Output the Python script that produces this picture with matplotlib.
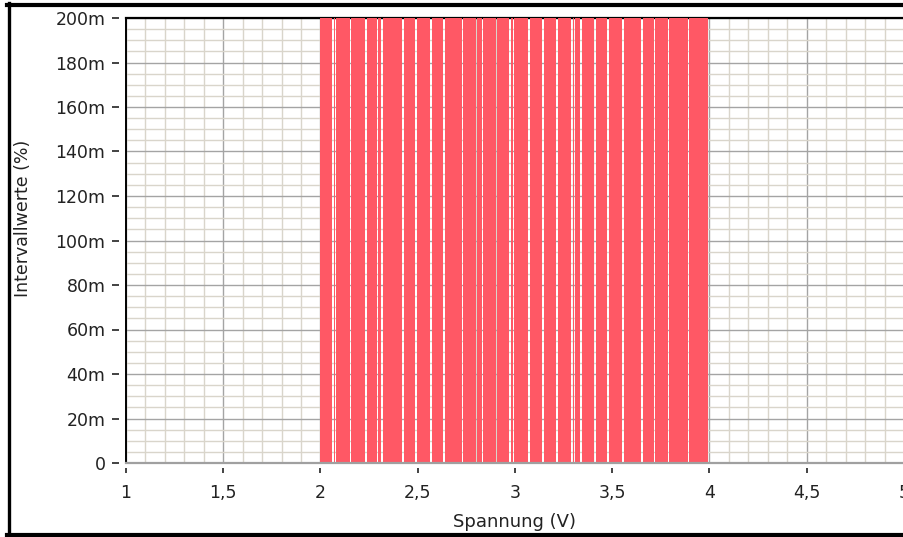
import numpy as np
import matplotlib
matplotlib.use("Agg")
import matplotlib.pyplot as plt
from matplotlib.ticker import MultipleLocator, FuncFormatter
from matplotlib.lines import Line2D

bin_edges = [2.0, 2.067, 2.082, 2.157, 2.237, 2.298, 2.319, 2.427, 2.494, 2.571,
             2.638, 2.735, 2.807, 2.838, 2.910, 2.977, 2.997, 3.075, 3.147, 3.219,
             3.296, 3.311, 3.342, 3.414, 3.481, 3.558, 3.656, 3.722, 3.794, 3.897, 4.0]
bar_heights = [0.25, 0.25, 0.25, 0.25, 0.25, 0.25, 0.25, 0.25, 0.25, 0.25,
               0.25, 0.25, 0.25, 0.25, 0.25, 0.25, 0.25, 0.25, 0.25, 0.25,
               0.25, 0.25, 0.25, 0.25, 0.25, 0.25, 0.25, 0.25, 0.25, 0.25]
x_ticks = [1, 1.5, 2, 2.5, 3, 3.5, 4, 4.5, 5]
y_ticks = [0, 0.02, 0.04, 0.06, 0.08, 0.1, 0.12, 0.14, 0.16, 0.18, 0.2]

BAR_RED = "#ff5865"
gap = 0.0075

W, H = 904, 537
fig = plt.figure(figsize=(W / 100, H / 100), dpi=100)
ax = fig.add_axes([126 / W, 1 - 463 / H, 778 / W, 445 / H])

edges = np.array(bin_edges)
ax.bar(edges[:-1], bar_heights, width=np.diff(edges) - gap, align="edge",
       color=BAR_RED, linewidth=0, zorder=3)

ax.set_xlim(1, 5)
ax.set_ylim(0, 0.2)

ax.set_xticks(x_ticks)
ax.set_yticks(y_ticks)
ax.xaxis.set_minor_locator(MultipleLocator(0.1))
ax.yaxis.set_minor_locator(MultipleLocator(0.005))
ax.xaxis.set_major_formatter(FuncFormatter(lambda v, p: ("%g" % v).replace(".", ",")))
ax.yaxis.set_major_formatter(FuncFormatter(lambda v, p: "0" if abs(v) < 1e-9 else "%dm" % round(v * 1000)))

ax.grid(which="minor", color="#d9d5cb", linewidth=1.0, zorder=0)
ax.grid(which="major", color="#a4a4a4", linewidth=1.0, zorder=1)
ax.set_axisbelow(True)

# ticks sit a little away from the axis lines
ax.spines["left"].set_position(("outward", 5))
ax.spines["bottom"].set_position(("outward", 3.6))
ax.spines["left"].set_visible(False)
ax.spines["bottom"].set_visible(False)
ax.spines["right"].set_visible(False)
ax.spines["top"].set_linewidth(1.6)
ax.spines["top"].set_color("black")
ax.tick_params(axis="y", which="major", length=4.8, width=1.2, color="#222222",
               pad=5, labelsize=12.5, labelcolor="#222222")
ax.tick_params(axis="x", which="major", length=3.6, width=1.2, color="#222222",
               pad=8, labelsize=12.5, labelcolor="#222222")
ax.tick_params(which="minor", length=0)

# actual axis lines
ax.axvline(1, color="black", linewidth=1.4, zorder=5, clip_on=False)
ax.axhline(0, color="#a0a0a0", linewidth=1.6, zorder=5, clip_on=False)

ax.set_xlabel("Spannung (V)", fontsize=13, color="#222222")
ax.set_ylabel("Intervallwerte (%)", fontsize=12.5, color="#222222")
ax.xaxis.set_label_coords(0.5, -0.113)
ax.yaxis.set_label_coords(-0.121, 0.55)

# black frame around the picture
fig.add_artist(Line2D([7 / W, 1], [1 - 5 / H, 1 - 5 / H], color="black", linewidth=3, transform=fig.transFigure))
fig.add_artist(Line2D([8.5 / W, 8.5 / W], [0, 1 - 3 / H], color="black", linewidth=2.4, transform=fig.transFigure))
fig.add_artist(Line2D([7 / W, 1], [2 / H, 2 / H], color="black", linewidth=3, transform=fig.transFigure))

fig.savefig("out.png", dpi=100)
